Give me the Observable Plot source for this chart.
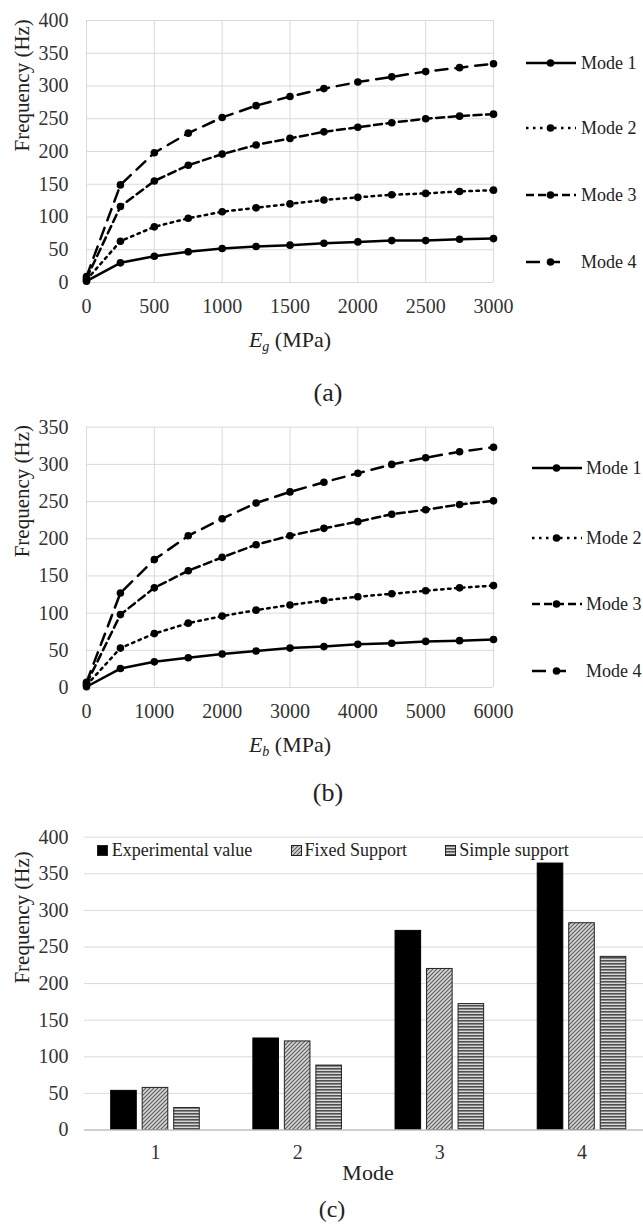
<!DOCTYPE html>
<html><head><meta charset="utf-8">
<script src="https://cdn.jsdelivr.net/npm/d3@7"></script>
<script src="https://cdn.jsdelivr.net/npm/@observablehq/plot@0.6"></script>
<style>
body{margin:0;background:#fff;}
#page{position:relative;width:643px;height:1224px;overflow:hidden;background:#fff;font-family:"Liberation Serif","Times New Roman",serif;color:#222;}
.plot{position:absolute;left:0;}
.c{position:absolute;transform:translate(-50%,-50%);white-space:nowrap;line-height:1;}
.lt{position:absolute;transform:translateY(-50%);white-space:nowrap;line-height:1;font-size:18px;color:#222;}
.sw{position:absolute;}
</style></head><body>
<svg width="0" height="0" style="position:absolute">
<defs>
<pattern id="hatch" patternUnits="userSpaceOnUse" width="4" height="4">
<rect width="4" height="4" fill="#d6d6d6"/>
<path d="M-1,1 l2,-2 M0,4 l4,-4 M3,5 l2,-2" stroke="#5a5a5a" stroke-width="1.1"/>
</pattern>
<pattern id="stripes" patternUnits="userSpaceOnUse" width="4" height="3">
<rect width="4" height="3" fill="#d8d8d8"/>
<rect width="4" height="1.6" fill="#505050"/>
</pattern>
</defs></svg>
<div id="page"></div>
<script>
// ---------- DATA ----------
const modeNames = ["Mode 1", "Mode 2", "Mode 3", "Mode 4"];

// (a) frequency vs E_g
const egValues = [0, 250, 500, 750, 1000, 1250, 1500, 1750, 2000, 2250, 2500, 2750, 3000];
const aMode1 = [2, 30, 40, 47, 52, 55, 57, 60, 62, 64, 64, 66, 67];
const aMode2 = [4, 63, 85, 98, 108, 114, 120, 126, 130, 134, 136, 139, 141];
const aMode3 = [6, 116, 155, 179, 196, 210, 220, 230, 237, 244, 250, 254, 257];
const aMode4 = [9, 149, 198, 228, 252, 270, 284, 296, 306, 314, 322, 328, 334];
const xTicksA = [0, 500, 1000, 1500, 2000, 2500, 3000];
const yTicksA = [0, 50, 100, 150, 200, 250, 300, 350, 400];

// (b) frequency vs E_b
const ebValues = [0, 500, 1000, 1500, 2000, 2500, 3000, 3500, 4000, 4500, 5000, 5500, 6000];
const bMode1 = [1, 25.5, 34.5, 40, 45, 49, 53, 55, 58, 59.5, 62, 63, 64.5];
const bMode2 = [3, 53, 72.5, 86.5, 96, 104, 111, 117, 122, 126, 130, 134, 137];
const bMode3 = [5, 98, 134, 157, 175, 192, 204, 214, 223, 233, 239, 246, 251];
const bMode4 = [7, 127, 172, 204, 227, 248, 263, 276, 288, 300, 309, 317, 323];
const xTicksB = [0, 1000, 2000, 3000, 4000, 5000, 6000];
const yTicksB = [0, 50, 100, 150, 200, 250, 300, 350];

// (c) bars
const barModes = ["1", "2", "3", "4"];
const barSeries = ["Experimental value", "Fixed Support", "Simple support"];
const experimental = [53.5, 125, 272, 364];
const fixedSupport = [57.5, 121, 220, 282.5];
const simpleSupport = [30, 88, 172, 236.5];
const yTicksC = [0, 50, 100, 150, 200, 250, 300, 350, 400];

const yTitle = "Frequency (Hz)";

// ---------- STYLE ----------
const FONT = "'Liberation Serif', 'Times New Roman', serif";
const dashes = [undefined, "2.5 4.5", "8 4.5", "12 8"];
const legendDashes = [undefined, "2.5 4.5", "8 4", "14 7"];
const legendLen = [50, 50, 50, 34];
const page = document.getElementById("page");

function lineChart(xs, series, xTicks, yTicks, yMax, m) {
  const rows = series.flatMap((vals, i) => vals.map((v, j) => ({mode: modeNames[i], x: xs[j], y: v})));
  return Plot.plot({
    width: 643, height: m.height,
    marginLeft: 86, marginRight: 150, marginTop: m.top, marginBottom: m.bottom,
    style: {fontFamily: FONT, fontSize: "20px", color: "#333", background: "transparent", overflow: "visible"},
    x: {domain: [0, xTicks[xTicks.length - 1]], ticks: xTicks, tickSize: 0, tickPadding: 16, tickFormat: d => String(d), label: null},
    y: {domain: [0, yMax], ticks: yTicks, tickSize: 0, tickPadding: 18, tickFormat: d => String(d), label: null},
    marks: [
      Plot.ruleY(yTicks, {stroke: "#d9d9d9", strokeWidth: 1}),
      Plot.ruleX(xTicks, {stroke: "#d9d9d9", strokeWidth: 1}),
      ...modeNames.map((name, i) => Plot.line(rows.filter(d => d.mode === name), {
        x: "x", y: "y", stroke: "#000", strokeWidth: 2.5,
        ...(dashes[i] ? {strokeDasharray: dashes[i]} : {})
      })),
      Plot.dot(rows, {x: "x", y: "y", r: 3.8, fill: "#000"}),
      Plot.text([yTitle], {text: d => d, frameAnchor: "left", dx: -64, rotate: -90, fontSize: 21, fill: "#222"})
    ]
  });
}

function place(el, top) {
  el.classList.add("plot");
  el.style.top = top + "px";
  page.appendChild(el);
}

function addText(html, x, y, size, cls = "c") {
  const d = document.createElement("div");
  d.className = cls;
  d.style.left = x + "px";
  d.style.top = y + "px";
  d.style.fontSize = size + "px";
  d.innerHTML = html;
  page.appendChild(d);
  return d;
}

function lineLegend(x1, textX, ys) {
  modeNames.forEach((name, i) => {
    const len = legendLen[i];
    const s = d3.create("svg").attr("width", 50).attr("height", 20)
      .attr("class", "sw").style("left", x1 + "px").style("top", (ys[i] - 10) + "px");
    s.append("line").attr("x1", 0).attr("x2", len).attr("y1", 10).attr("y2", 10)
      .attr("stroke", "#000").attr("stroke-width", 2.5)
      .attr("stroke-dasharray", legendDashes[i] || null);
    s.append("circle").attr("cx", 24.5).attr("cy", 10).attr("r", 3.8).attr("fill", "#000");
    page.appendChild(s.node());
    addText(name, textX, ys[i], 18, "lt");
  });
}

// ---------- (a) ----------
place(lineChart(egValues, [aMode1, aMode2, aMode3, aMode4], xTicksA, yTicksA, 400, {height: 330, top: 20, bottom: 48}), 0);
lineLegend(526, 581, [63, 128.3, 195, 262]);
addText('<i>E</i><sub style="font-size:14px;vertical-align:-4px"><i>g</i></sub> (MPa)', 290, 341, 22);
addText("(a)", 328, 393, 26);

// ---------- (b) ----------
place(lineChart(ebValues, [bMode1, bMode2, bMode3, bMode4], xTicksB, yTicksB, 350, {height: 330, top: 26.7, bottom: 43}), 400);
lineLegend(532, 586, [468.3, 538, 604, 671]);
addText('<i>E</i><sub style="font-size:14px;vertical-align:-4px"><i>b</i></sub> (MPa)', 290, 746, 22);
addText("(b)", 328, 793, 26);

// ---------- (c) ----------
const barRows = barModes.map((m, i) => ({mode: m, exp: experimental[i], fix: fixedSupport[i], sim: simpleSupport[i]}));
const barFills = ["#000", "url(#hatch)", "url(#stripes)"];
const barInsets = [[0, 63], [31.5, 31.5], [63, 0]];
const barKeys = ["exp", "fix", "sim"];
const chartC = Plot.plot({
  width: 643, height: 370, marginLeft: 84, marginRight: 0, marginTop: 26.7, marginBottom: 50.5,
  style: {fontFamily: FONT, fontSize: "20px", color: "#333", background: "transparent", overflow: "visible"},
  x: {domain: barModes, range: [83.9, 652.6], paddingInner: 0.377, paddingOuter: 0.1885, round: false, tickSize: 0, tickPadding: 15, label: null},
  y: {domain: [0, 400], ticks: yTicksC, tickSize: 0, tickPadding: 16, tickFormat: d => String(d), label: null},
  marks: [
    Plot.ruleY(yTicksC.filter(t => t > 0), {stroke: "#d9d9d9", strokeWidth: 1}),
    ...barKeys.map((k, i) => Plot.barY(barRows, {
      x: "mode", y: k, fill: barFills[i], stroke: i === 0 ? "#000" : "#222", strokeWidth: 1,
      insetLeft: barInsets[i][0], insetRight: barInsets[i][1]
    })),
    Plot.ruleY([0], {stroke: "#bfbfbf", strokeWidth: 1.5}),
    Plot.text([yTitle], {text: d => d, frameAnchor: "left", dx: -62, rotate: -90, fontSize: 21, fill: "#222"})
  ]
});
place(chartC, 810);

// bar legend
const swX = [96.7, 291, 445];
const txtX = [111.7, 304.5, 459.3];
barSeries.forEach((name, i) => {
  const s = d3.create("svg").attr("width", 12).attr("height", 12).attr("class", "sw")
    .style("left", swX[i] + "px").style("top", (850 - 5.5) + "px");
  s.append("rect").attr("x", 0.5).attr("y", 0.5).attr("width", 10).attr("height", 10)
    .attr("fill", barFills[i]).attr("stroke", "#222").attr("stroke-width", 1);
  page.appendChild(s.node());
  addText(name, txtX[i], 850, 18, "lt");
});
addText("Mode", 368, 1173, 22);
addText("(c)", 332, 1209, 24);
</script>
</body></html>
